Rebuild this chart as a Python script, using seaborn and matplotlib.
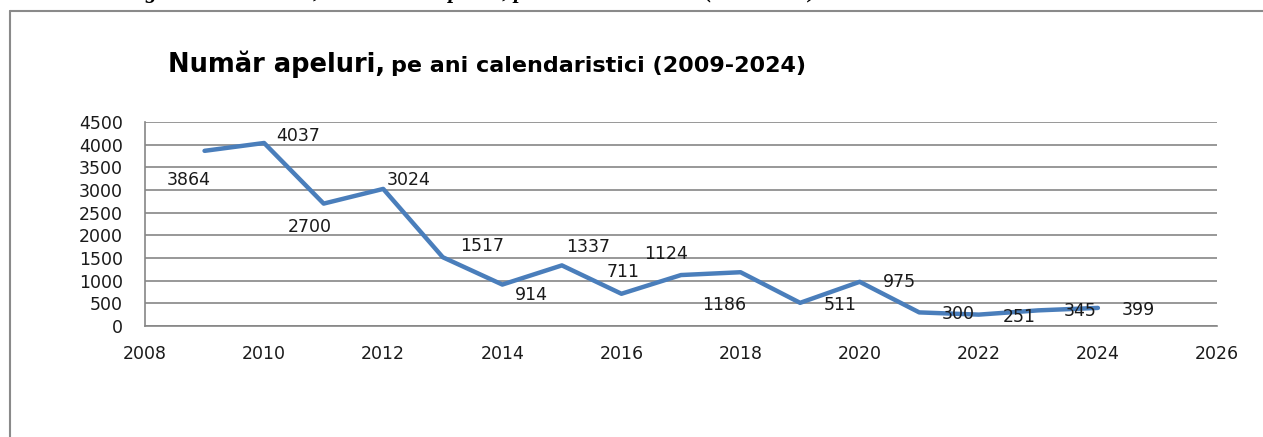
import matplotlib
matplotlib.use("Agg")
import matplotlib.pyplot as plt
import seaborn as sns
import pandas as pd
from matplotlib.lines import Line2D

# ---- data ----
years = [2009, 2010, 2011, 2012, 2013, 2014, 2015, 2016,
         2017, 2018, 2019, 2020, 2021, 2022, 2023, 2024]
calls = [3864, 4037, 2700, 3024, 1517, 914, 1337, 711,
         1124, 1186, 511, 975, 300, 251, 345, 399]
x_ticks = [2008, 2010, 2012, 2014, 2016, 2018, 2020, 2022, 2024, 2026]
y_ticks = [0, 500, 1000, 1500, 2000, 2500, 3000, 3500, 4000, 4500]
title_main = "Număr apeluri,"
title_sub = "pe ani calendaristici (2009-2024)"
caption = "Figura 1. Activitatea, numărul de apeluri, pe ani calendaristici (2009-2024)"

# label placement offsets (pixels, x right / y up) - layout only
label_offsets = [(-16, -29), (34, 7), (-14, -23), (25, 9), (39, 11), (29, -10),
                 (26, 18), (2, 22), (-15, 21), (-16, -33), (40, -2), (40, 0),
                 (39, -2), (40, -2), (42, -1), (40, -2)]

sns.set_theme(style="white")
plt.rcParams['font.family'] = ['DejaVu Sans']

W, H = 1263, 437
fig = plt.figure(figsize=(W / 100, H / 100), dpi=100)
fig.patch.set_facecolor("white")

ax = fig.add_axes([145 / W, 1 - 326 / H, (1217 - 145) / W, (326 - 122) / H])
df = pd.DataFrame({"year": years, "calls": calls})
sns.lineplot(data=df, x="year", y="calls", ax=ax, color="#4A7EBB", linewidth=3.2)

ax.set_xlim(2008, 2026)
ax.set_ylim(0, 4500)
ax.set_xticks(x_ticks)
ax.set_yticks(y_ticks)
ax.set_xlabel("")
ax.set_ylabel("")
ax.grid(axis="y", color="#868686", linewidth=1.2)
ax.grid(axis="x", visible=False)
ax.set_axisbelow(True)
for s in ["top", "right"]:
    ax.spines[s].set_visible(False)
for s in ["left", "bottom"]:
    ax.spines[s].set_color("#868686")
    ax.spines[s].set_linewidth(1.2)
ax.tick_params(axis="both", direction="out", length=5.5, width=1.2,
               color="#868686", labelsize=12.5, labelcolor="#1a1a1a")
ax.tick_params(axis="y", pad=10.5)
ax.tick_params(axis="x", pad=8)
ax.set_facecolor("white")

for x, v, (dx, dy) in zip(years, calls, label_offsets):
    ax.annotate(str(v), (x, v), xytext=(dx, dy), textcoords="offset pixels",
                ha="center", va="center", fontsize=12.5, color="#1a1a1a")

# chart frame (left and top edges)
fig.add_artist(Line2D([10 / W, 10 / W], [1 - 11 / H, -0.05], color="#8a8a8a",
                      linewidth=1.5, transform=fig.transFigure))
fig.add_artist(Line2D([10 / W, 1.05], [1 - 11 / H, 1 - 11 / H], color="#8a8a8a",
                      linewidth=1.5, transform=fig.transFigure))

# title in two parts
t1 = fig.text(168 / W, 1 - 72 / H, title_main, fontsize=18.5, fontweight="bold",
              family="DejaVu Sans", va="baseline", ha="left", color="black")
fig.canvas.draw()
bb = t1.get_window_extent(renderer=fig.canvas.get_renderer())
fig.text((bb.x1 + 6) / W, 1 - 72 / H, title_sub, fontsize=16, fontweight="bold",
         family="DejaVu Sans", va="baseline", ha="left", color="black")

# caption above the chart, mostly cut off by the image edge
fig.text(125 / W, 1 + 2 / H, caption, fontsize=16, fontweight="bold",
         style="italic", family="Liberation Serif", va="baseline", ha="left",
         color="black")

fig.savefig("out.png", dpi=100, facecolor="white")
